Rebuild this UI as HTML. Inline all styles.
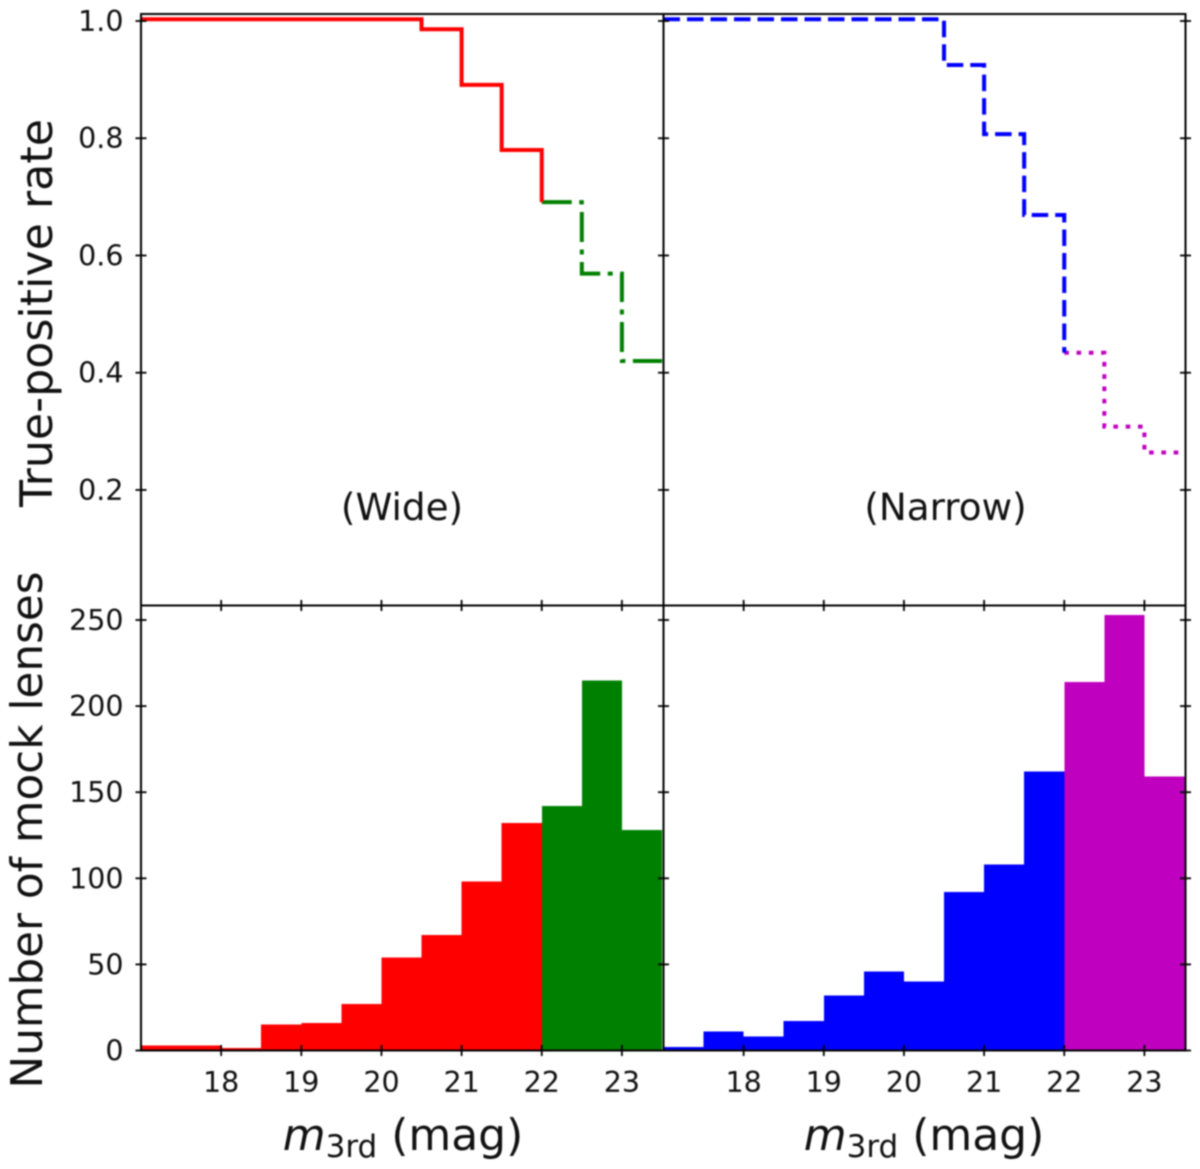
<!DOCTYPE html>
<html>
<head>
<meta charset="utf-8">
<title>True-positive rate and mock lens counts</title>
<style>
html,body{margin:0;padding:0;background:#fff;width:1200px;height:1169px;overflow:hidden}
svg{display:block;filter:blur(0.7px)}
text{font-family:"DejaVu Sans","Liberation Sans",sans-serif;fill:#111}
</style>
</head>
<body>
<svg id="chart" xmlns="http://www.w3.org/2000/svg" width="1200" height="1169" viewBox="0 0 1200 1169">
<rect x="0" y="0" width="1200" height="1169" fill="#fff"/>
</svg>
<script>
// Data
const binEdges = [17,17.5,18,18.5,19,19.5,20,20.5,21,21.5,22,22.5,23,23.5];
const wideRateBright = [1.003,1.003,1.003,1.003,1.003,1.003,1.003,0.986,0.891,0.78];
const wideRateFaint = [0.691,0.569,0.42];
const narrowRateBright = [1.003,1.003,1.003,1.003,1.003,1.003,1.003,0.925,0.807,0.669];
const narrowRateFaint = [0.434,0.308,0.264];
const wideCountBright = [3,3,1.5,15,16,27,54,67,98,132];
const wideCountFaint = [142,215,128];
const narrowCountBright = [2,11,8,17,32,46,40,92,108,162];
const narrowCountFaint = [214,253,159];
const xTicks = [18,19,20,21,22,23];
const rateTicks = [0.2,0.4,0.6,0.8,1.0];
const rateTickLabels = ["0.2","0.4","0.6","0.8","1.0"];
const countTicks = [0,50,100,150,200,250];

const NS = "http://www.w3.org/2000/svg";
const svg = document.getElementById("chart");
const LEFT = 141, MID = 663.5, RIGHT = 1185.5, TOP = 14, SPLIT = 605.5, BOTTOM = 1050.5;
const PX_PER_MAG = 80.15;

function xWide(v){ return LEFT + (v - 17) * PX_PER_MAG; }
function xNarrow(v){ return MID + (v - 17) * PX_PER_MAG; }
function yRate(v){ return 21 + (1 - v) * 586.2; }
function yCount(v){ return BOTTOM - v * 1.722; }

function make(tag, attrs, parent){
  const el = document.createElementNS(NS, tag);
  for (const k in attrs) el.setAttribute(k, attrs[k]);
  (parent || svg).appendChild(el);
  return el;
}

function drawBars(values, startBin, xf, color, name){
  values.forEach(function(v, i){
    const x0 = xf(binEdges[startBin + i]);
    const x1 = xf(binEdges[startBin + i + 1]);
    const r = make("rect", {x:x0, y:yCount(v), width:x1 - x0, height:BOTTOM - yCount(v), fill:color, "shape-rendering":"crispEdges"});
    
    
  });
}

function stepPath(values, startBin, xf, nextValue){
  let d = "M" + xf(binEdges[startBin]) + " " + yRate(values[0]);
  values.forEach(function(v, i){
    d += " V" + yRate(v) + " H" + xf(binEdges[startBin + i + 1]);
  });
  if (nextValue !== undefined) d += " V" + yRate(nextValue);
  return d;
}

function drawStep(values, startBin, xf, nextValue, color, dash, name){
  const p = make("path", {d:stepPath(values, startBin, xf, nextValue), fill:"none", stroke:color, "stroke-width":4, "stroke-dasharray":dash, "stroke-linejoin":"miter"});
  
  
}

// Histograms
drawBars(wideCountBright, 0, xWide, "#ff0000", "wide-count-bar-bright");
drawBars(wideCountFaint, 10, xWide, "#008000", "wide-count-bar-faint");
drawBars(narrowCountBright, 0, xNarrow, "#0000ff", "narrow-count-bar-bright");
drawBars(narrowCountFaint, 10, xNarrow, "#bf00bf", "narrow-count-bar-faint");

// Rate steps
drawStep(wideRateFaint, 10, xWide, undefined, "#008000", "30 7.5 5 7.5", "wide-rate-line-faint");
drawStep(wideRateBright, 0, xWide, wideRateFaint[0], "#ff0000", "none", "wide-rate-line-bright");
drawStep(narrowRateFaint, 10, xNarrow, undefined, "#bf00bf", "4.6 7.7", "narrow-rate-line-faint");
drawStep(narrowRateBright, 0, xNarrow, narrowRateFaint[0], "#0000ff", "16.5 7", "narrow-rate-line-bright");

// Frame
const frame = make("path", {
  d:"M"+LEFT+" "+TOP+" H"+RIGHT+" V"+BOTTOM+" H"+LEFT+" Z M"+MID+" "+TOP+" V"+BOTTOM+" M"+LEFT+" "+SPLIT+" H"+RIGHT,
  fill:"none", stroke:"#000", "stroke-width":2
});



function hTick(x, y){
  const l = make("line", {x1:x - 5.5, x2:x + 5.5, y1:y, y2:y, stroke:"#000", "stroke-width":1.8});
  
  
}
function vTick(x, y){
  const l = make("line", {x1:x, x2:x, y1:y - 5.5, y2:y + 5.5, stroke:"#000", "stroke-width":1.8});
  
  
}

[LEFT, MID, RIGHT].forEach(function(x){
  rateTicks.forEach(function(v){ hTick(x, yRate(v)); });
  countTicks.forEach(function(v){ hTick(x, yCount(v)); });
});
xTicks.forEach(function(v){
  vTick(xWide(v), SPLIT);
  vTick(xWide(v), BOTTOM);
  vTick(xNarrow(v), SPLIT);
  vTick(xNarrow(v), BOTTOM);
});

// Tick labels
rateTicks.forEach(function(v, i){
  const t = make("text", {x:123.5, y:yRate(v) + 10, "text-anchor":"end", "font-size":28.5});
  t.textContent = rateTickLabels[i];
  
  
});
countTicks.forEach(function(v){
  const t = make("text", {x:123.5, y:yCount(v) + 10, "text-anchor":"end", "font-size":28.5});
  t.textContent = String(v);
  
  
});
xTicks.forEach(function(v){
  [xWide, xNarrow].forEach(function(xf){
    const t = make("text", {x:xf(v), y:1092, "text-anchor":"middle", "font-size":28.5});
    t.textContent = String(v);
    
    
  });
});

// Panel labels
const wideLabel = make("text", {x:402, y:520, "text-anchor":"middle", "font-size":37.3});
wideLabel.textContent = "(Wide)";


const narrowLabel = make("text", {x:945.5, y:520, "text-anchor":"middle", "font-size":37.3});
narrowLabel.textContent = "(Narrow)";



// Axis titles
const rateTitle = make("text", {"text-anchor":"middle", "font-size":44.3, transform:"translate(52 313) rotate(-90)"});
rateTitle.textContent = "True-positive rate";


const countTitle = make("text", {"text-anchor":"middle", "font-size":43.7, transform:"translate(42 830) rotate(-90)"});
countTitle.textContent = "Number of mock lenses";



function xTitle(cx, name){
  const t = make("text", {x:cx, y:1150, "text-anchor":"middle", "font-size":44});
  
  
  const a = make("tspan", {"font-style":"italic"}, t);
  a.textContent = "m";
  const b = make("tspan", {"font-size":31, dy:7}, t);
  b.textContent = "3rd";
  const c = make("tspan", {dy:-7}, t);
  c.textContent = " (mag)";
}
xTitle(403, "wide-x-axis-title");
xTitle(924, "narrow-x-axis-title");
</script>
</body>
</html>
